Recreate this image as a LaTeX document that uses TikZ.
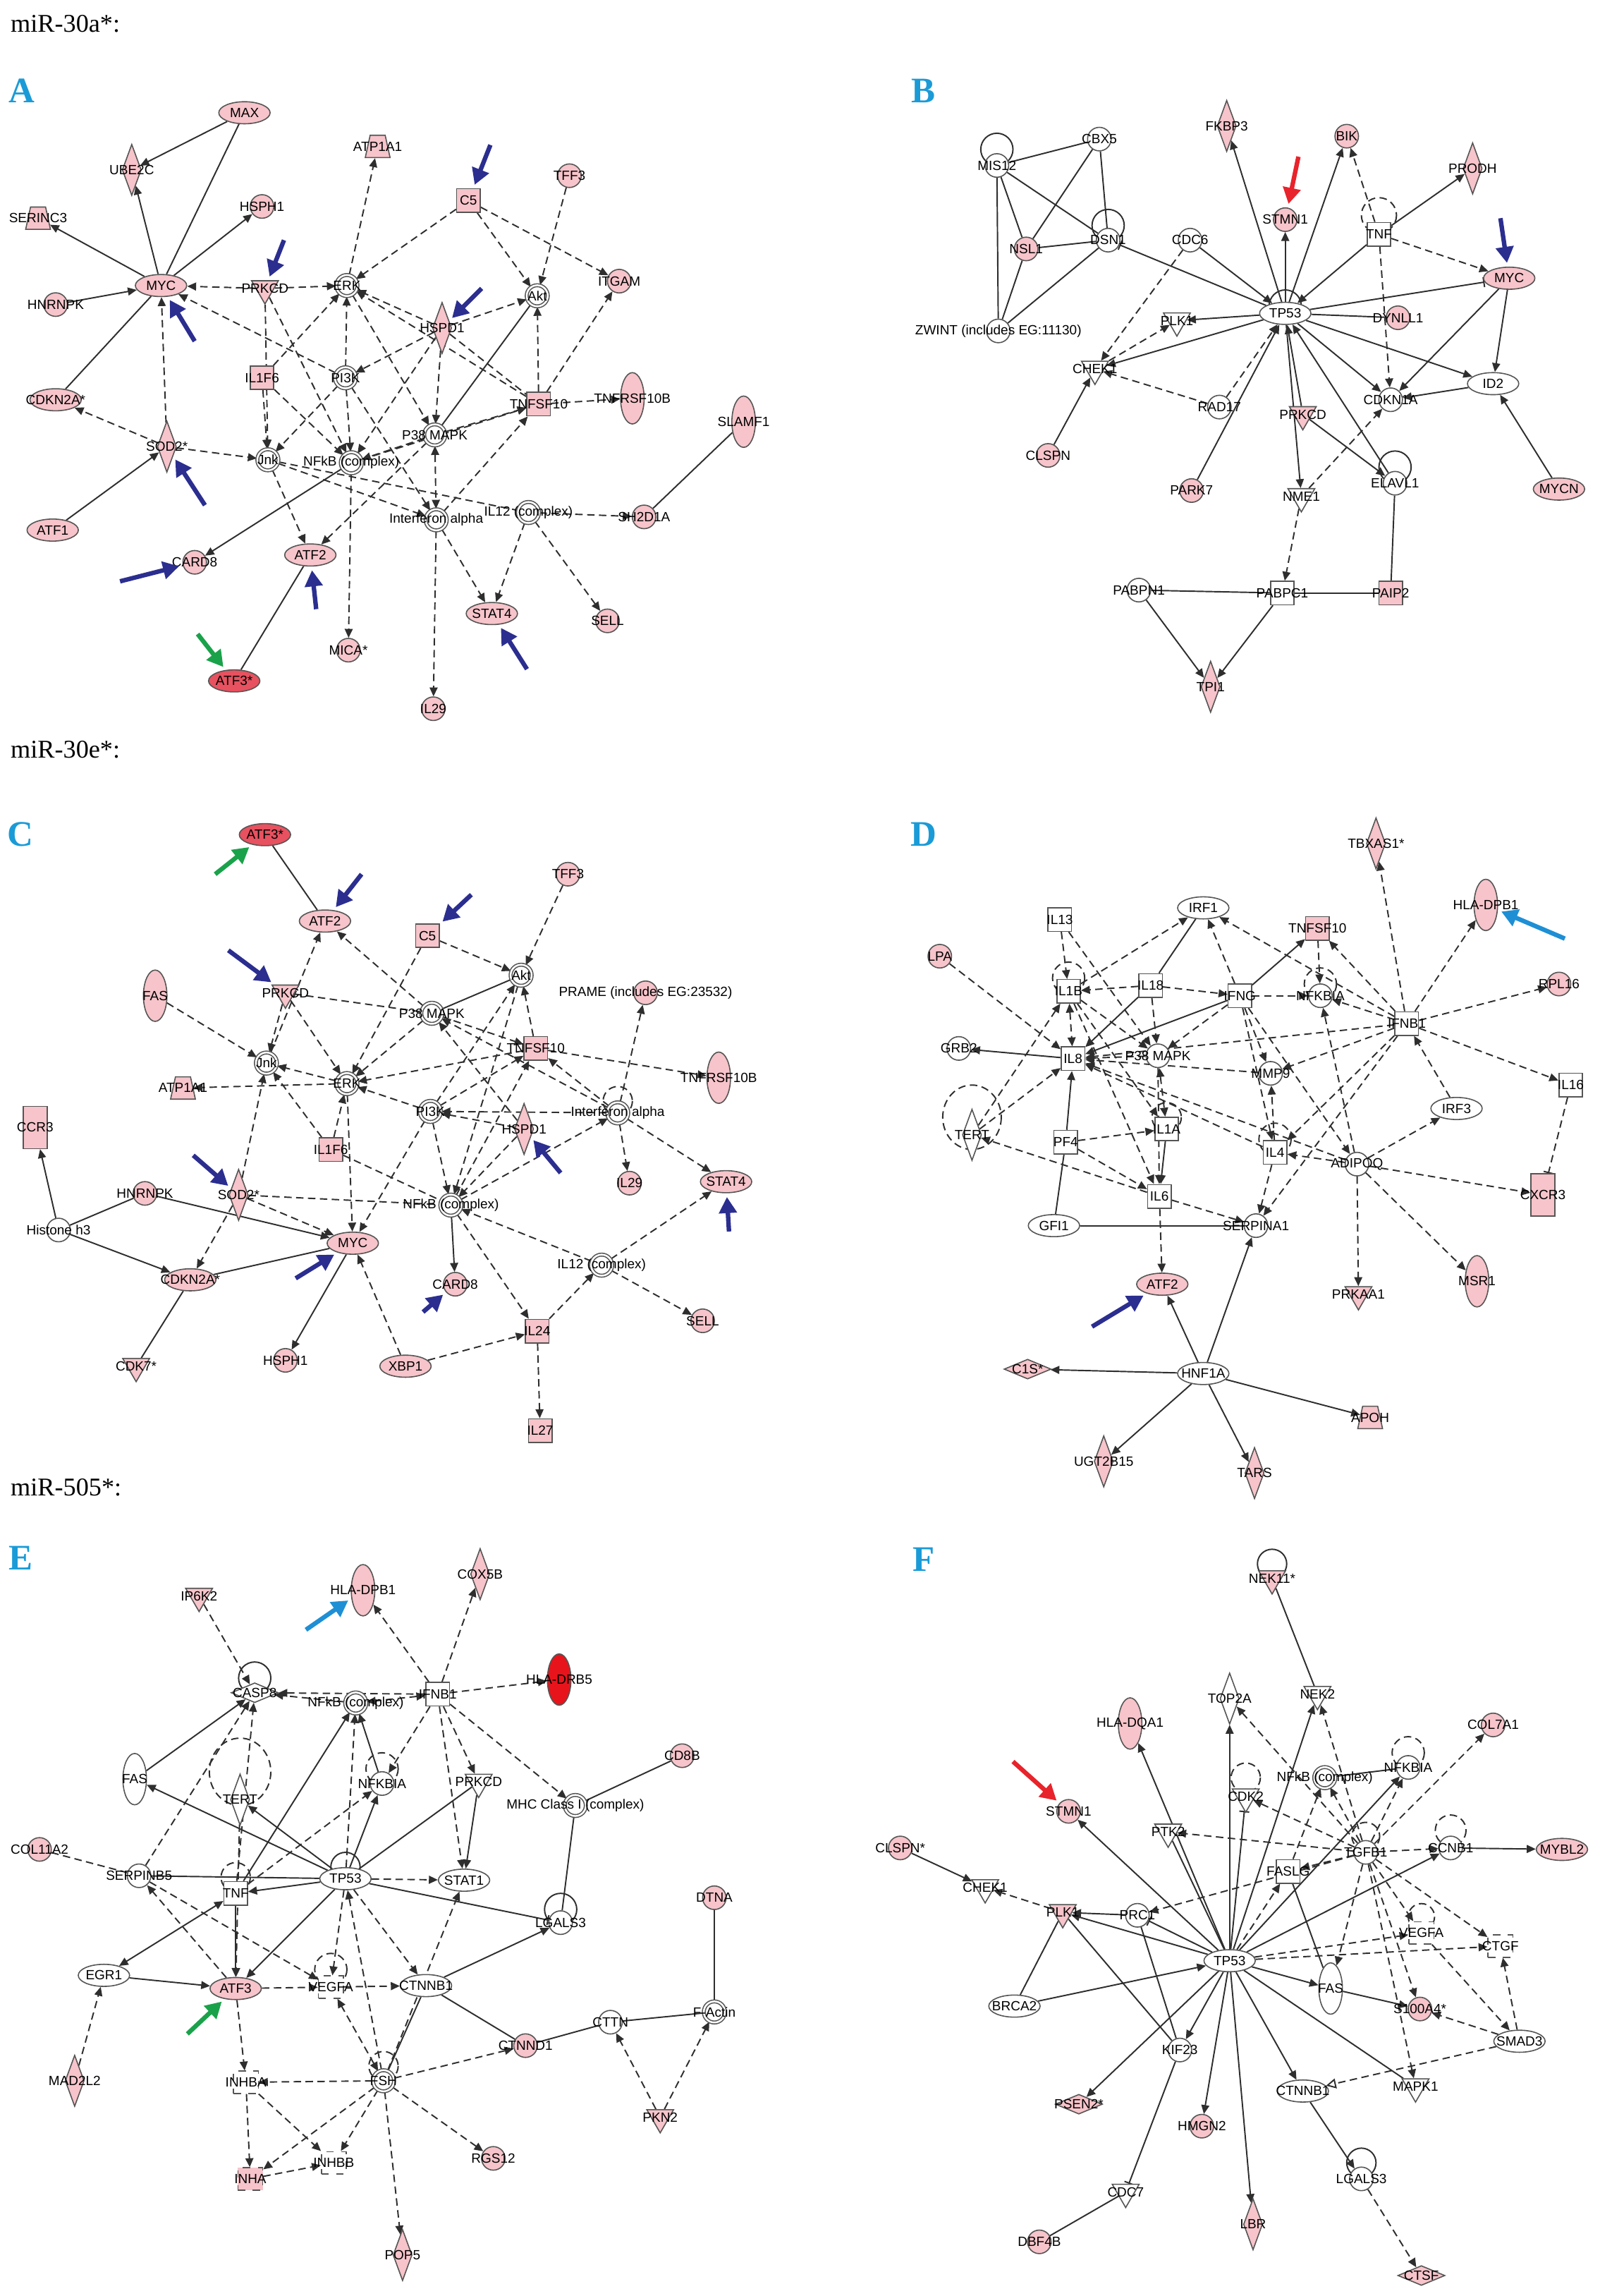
\documentclass[tikz,border=0pt]{standalone}
\usepackage{fontspec}
\setmainfont{Liberation Serif}
\newfontfamily\genefont{Liberation Sans}
\usetikzlibrary{arrows.meta,shapes.geometric}
\definecolor{GenePink}{HTML}{F6C4CA}
\definecolor{GeneRed}{HTML}{E8515F}
\definecolor{HotRed}{HTML}{E8141C}
\definecolor{EdgeGray}{HTML}{2E2E2E}
\definecolor{NodeLine}{HTML}{555555}
\definecolor{CallBlue}{HTML}{2B2E8F}
\definecolor{CallCyan}{HTML}{1E8FD5}
\definecolor{CallGreen}{HTML}{1AA24A}
\definecolor{CallRed}{HTML}{E8232B}
\definecolor{LetBlue}{HTML}{1A9BD7}
\pgfdeclarelayer{bg}
\pgfsetlayers{bg,main}
\tikzset{
  lbl/.style={font=\genefont\fontsize{5.4}{6}\selectfont,inner sep=0pt,text=black},
  txt/.style={label={[lbl]center:{#1}}},
  gene/.style={draw=NodeLine,line width=0.45pt,inner sep=0pt,fill=white},
  pk/.style={fill=GenePink},
  rd/.style={fill=GeneRed},
  oval/.style={gene,ellipse,minimum width=20.7pt,minimum height=8.9pt},
  tall/.style={gene,ellipse,minimum width=9.5pt,minimum height=20.7pt},
  gcir/.style={gene,circle,minimum size=9.5pt},
  cplx/.style={gene,circle,double,double distance=0.7pt,minimum size=8.5pt},
  sq/.style={gene,rectangle,minimum size=9.5pt},
  tallsq/.style={gene,rectangle,minimum width=9.7pt,minimum height=17pt},
  dsq/.style={gene,rectangle,dashed,minimum width=10pt,minimum height=9pt},
  dia/.style={gene,diamond,minimum width=7.7pt,minimum height=20.7pt},
  hdia/.style={gene,diamond,minimum width=19pt,minimum height=8pt},
  tri/.style={gene,regular polygon,regular polygon sides=3,shape border rotate=180,minimum size=12.5pt},
  trap/.style={gene,trapezium,trapezium angle=72,trapezium stretches=true,inner sep=1pt,minimum width=10pt,minimum height=9pt},
  ln/.style={draw=EdgeGray,line width=0.55pt},
  dl/.style={ln,dash pattern=on 3pt off 1.8pt},
  sa/.style={ln,-{Triangle[length=3.6pt,width=3.2pt]}},
  da/.style={dl,-{Triangle[length=3.6pt,width=3.2pt]}},
  sba/.style={ln,{Triangle[length=3.6pt,width=3.2pt]}-{Triangle[length=3.6pt,width=3.2pt]}},
  dba/.style={dl,{Triangle[length=3.6pt,width=3.2pt]}-{Triangle[length=3.6pt,width=3.2pt]}},
  sb/.style={ln,-{Bar[width=4pt]}},
  db/.style={dl,-{Bar[width=4pt]}},
  ptr/.style={line width=1.8pt,draw=#1,-{Triangle[length=6.5pt,width=7pt]},shorten >=1.5pt},
  plet/.style={font=\bfseries\fontsize{14.5}{16}\selectfont,text=LetBlue},
  ptitle/.style={font=\fontsize{10.3}{12}\selectfont,anchor=west,inner sep=0pt}
}
\begin{document}
\begin{tikzpicture}[x=0.02075cm,y=-0.02075cm]
\useasboundingbox (0,0) rectangle (1093,1568);
\begin{pgfonlayer}{bg}
\fill[white] (0,0) rectangle (1093,1568);
\end{pgfonlayer}

% titles and panel letters
\node[ptitle] (tA) at (7,16) {miR-30a*:};
\node[ptitle] (tC) at (7,512) {miR-30e*:};
\node[ptitle] (tE) at (7,1016) {miR-505*:};
\node[plet] (lA) at (15,62) {A};
\node[plet] (lB) at (631,62) {B};
\node[plet] (lC) at (14,570) {C};
\node[plet] (lD) at (631,570) {D};
\node[plet] (lE) at (14,1064) {E};
\node[plet] (lF) at (631,1065) {F};

% ---- A ----
\node[oval,pk,txt=MAX] (aMAX) at (167,77) {};
\node[dia,pk,txt=UBE2C] (aUBE) at (90,116) {};
\node[trap,pk,txt=SERINC3] (aSER) at (26,149) {};
\node[gcir,pk,txt=HSPH1] (aHSP) at (179,141) {};
\node[oval,pk,txt=MYC] (aMYC) at (110,195) {};
\node[gcir,pk,txt=HNRNPK] (aHNR) at (38,208) {};
\node[tri,pk,txt=PRKCD] (aPRK) at (181,197) {};
\node[cplx,txt=ERK] (aERK) at (237,195) {};
\node[trap,pk,txt=ATP1A1] (aATP) at (258,100) {};
\node[sq,pk,txt=IL1F6] (aIL1F6) at (179,258) {};
\node[cplx,txt=PI3K] (aPI3K) at (236,258) {};
\node[oval,pk,txt=CDKN2A*] (aCDK) at (38,273) {};
\node[dia,pk,txt=SOD2*] (aSOD) at (114,305) {};
\node[cplx,txt=Jnk] (aJnk) at (183,314) {};
\node[cplx,txt=NFkB (complex)] (aNFkB) at (240,316) {};
\node[oval,pk,txt=ATF1] (aATF1) at (36,362) {};
\node[gcir,pk,txt=CARD8] (aCARD) at (133,384) {};
\node[oval,pk,txt=ATF2] (aATF2) at (212,379) {};
\node[gcir,pk,txt=MICA*] (aMICA) at (238,444) {};
\node[oval,rd,txt=ATF3*] (aATF3) at (160,465) {};
\node[sq,pk,txt=C5] (aC5) at (320,137) {};
\node[gcir,pk,txt=TFF3] (aTFF) at (389,120) {};
\node[cplx,txt=Akt] (aAkt) at (367,202) {};
\node[gcir,pk,txt=ITGAM] (aITG) at (423,192) {};
\node[dia,pk,txt=HSPD1] (aHSPD) at (302,224) {};
\node[sq,pk,txt=TNFSF10] (aTNFSF) at (368,276) {};
\node[tall,pk,txt=TNFRSF10B] (aTNFR) at (432,272) {};
\node[tall,pk,txt=SLAMF1] (aSLAM) at (508,288) {};
\node[cplx,txt=P38 MAPK] (aP38) at (297,297) {};
\node[cplx,txt=Interferon alpha] (aIFNa) at (298,355) {};
\node[cplx,txt=IL12 (complex)] (aIL12) at (361,350) {};
\node[gcir,pk,txt=SH2D1A] (aSH2) at (440,353) {};
\node[oval,pk,txt=STAT4] (aSTAT4) at (336,419) {};
\node[gcir,pk,txt=SELL] (aSELL) at (415,424) {};
\node[gcir,pk,txt=IL29] (aIL29) at (296,484) {};

\begin{pgfonlayer}{bg}
\draw[sa] (aMAX) -- (aUBE);
\draw[ln] (aMAX) -- (aMYC);
\draw[sa] (aMYC) -- (aUBE);
\draw[sa] (aMYC) -- (aSER);
\draw[sa] (aMYC) -- (aHSP);
\draw[sa] (aHNR) -- (aMYC);
\draw[ln] (aCDK) -- (aMYC);
\draw[sa] (aATF1) -- (aSOD);
\draw[da] (aSOD) -- (aMYC);
\draw[da] (aSOD) -- (aCDK);
\draw[da] (aSOD) -- (aJnk);
\draw[da] (aPRK) -- (aMYC);
\draw[da] (aPRK) -- (aERK);
\draw[da] (aPI3K) -- (aMYC);
\draw[da] (aPRK) -- (aJnk);
\draw[da] (aPRK) -- (aNFkB);
\draw[da] (aIL1F6) -- (aJnk);
\draw[da] (aIL1F6) -- (aERK);
\draw[da] (aIL1F6) -- (aNFkB);
\draw[da] (aERK) -- (aATP);
\draw[da] (aPI3K) -- (aERK);
\draw[da] (aPI3K) -- (aJnk);
\draw[da] (aPI3K) -- (aNFkB);
\draw[da] (aJnk) -- (aATF2);
\draw[da] (aP38) -- (aATF2);
\draw[sa] (aNFkB) -- (aCARD);
\draw[ln] (aATF2) -- (aATF3);
\draw[da] (aNFkB) -- (aMICA);
\draw[da] (aC5) -- (aERK);
\draw[da] (aC5) -- (aAkt);
\draw[da] (aC5) -- (aITG);
\draw[da] (aTFF) -- (aAkt);
\draw[da] (aHSPD) -- (aAkt);
\draw[da] (aHSPD) -- (aP38);
\draw[da] (aHSPD) -- (aERK);
\draw[dl] (aHSPD) -- (aTNFSF);
\draw[da] (aHSPD) -- (aPI3K);
\draw[da] (aHSPD) -- (aNFkB);
\draw[da] (aTNFSF) -- (aAkt);
\draw[da] (aTNFSF) -- (aITG);
\draw[da] (aTNFSF) -- (aTNFR);
\draw[da] (aTNFSF) -- (aERK);
\draw[da] (aP38) -- (aTNFSF);
\draw[ln] (aP38) -- (aAkt);
\draw[da] (aIFNa) -- (aTNFSF);
\draw[dba] (aP38) -- (aIFNa);
\draw[da] (aIFNa) -- (aSTAT4);
\draw[da] (aIFNa) -- (aIL29);
\draw[da] (aIL12) -- (aSTAT4);
\draw[da] (aIL12) -- (aSELL);
\draw[da] (aIL12) -- (aSH2);
\draw[dl] (aJnk) -- (aIL12);
\draw[da] (aJnk) -- (aIFNa);
\draw[da] (aERK) -- (aP38);
\draw[da] (aPI3K) -- (aIFNa);
\draw[da] (aP38) -- (aNFkB);
\draw[da] (aNFkB) -- (aTNFSF);
\draw[ln] (aSLAM) -- (aSH2);
\end{pgfonlayer}

\coordinate (qA1) at (194,164);
\coordinate (qA2) at (133,233);
\coordinate (qA3) at (140,345);
\coordinate (qA4) at (82,397);
\coordinate (qA5) at (216,416);
\coordinate (qA6) at (135,433);
\coordinate (qA7) at (335,99);
\coordinate (qA8) at (329,197);
\coordinate (qA9) at (360,457);
\draw[ptr=CallBlue] (qA1) -- (aPRK);
\draw[ptr=CallBlue] (qA2) -- (aMYC);
\draw[ptr=CallBlue] (qA3) -- (aSOD);
\draw[ptr=CallBlue] (qA4) -- (aCARD);
\draw[ptr=CallBlue] (qA5) -- (aATF2);
\draw[ptr=CallGreen] (qA6) -- (aATF3);
\draw[ptr=CallBlue] (qA7) -- (aC5);
\draw[ptr=CallBlue] (qA8) -- (aHSPD);
\draw[ptr=CallBlue] (qA9) -- (aSTAT4);

% ---- B ----
\node[gcir,txt=MIS12] (bMIS) at (681,113) {};
\node[gcir,txt=CBX5] (bCBX) at (751,95) {};
\node[gcir,txt=DSN1] (bDSN) at (757,164) {};
\node[gcir,pk,txt=NSL1] (bNSL) at (701,170) {};
\node[gcir,txt={ZWINT (includes EG:11130)}] (bZW) at (682,226) {};
\node[gcir,txt=CDC6] (bCDC6) at (813,164) {};
\node[dia,pk,txt=FKBP3] (bFKB) at (838,86) {};
\node[gcir,pk,txt=BIK] (bBIK) at (920,93) {};
\node[gcir,pk,txt=STMN1] (bSTM) at (878,150) {};
\node[dia,pk,txt=PRODH] (bPRO) at (1006,115) {};
\node[sq,txt=TNF] (bTNF) at (942,160) {};
\node[oval,pk,txt=MYC] (bMYC) at (1031,190) {};
\node[oval,txt=TP53] (bTP53) at (878,214) {};
\node[gcir,pk,txt=DYNLL1] (bDYN) at (955,217) {};
\node[tri,txt=PLK1] (bPLK) at (804,219) {};
\node[tri,txt=CHEK1] (bCHK) at (748,252) {};
\node[gcir,txt=RAD17] (bRAD) at (833,278) {};
\node[gcir,txt=CDKN1A] (bCDKN) at (950,273) {};
\node[oval,txt=ID2] (bID2) at (1020,262) {};
\node[tri,pk,txt=PRKCD] (bPRK) at (890,283) {};
\node[gcir,pk,txt=CLSPN] (bCLS) at (716,311) {};
\node[gcir,pk,txt=PARK7] (bPARK) at (814,335) {};
\node[gcir,txt=ELAVL1] (bELA) at (953,330) {};
\node[tri,txt=NME1] (bNME) at (889,339) {};
\node[oval,pk,txt=MYCN] (bMYCN) at (1065,334) {};
\node[gcir,txt=PABPN1] (bPABN) at (778,403) {};
\node[sq,txt=PABPC1] (bPABC) at (876,405) {};
\node[sq,pk,txt=PAIP2] (bPAIP) at (950,405) {};
\node[dia,pk,txt=TPI1] (bTPI) at (827,469) {};

\begin{pgfonlayer}{bg}
\draw[ln] (bMIS) ++(0,-11) circle[radius=11];
\draw[ln] (bDSN) ++(0,-10) circle[radius=11];
\draw[dl] (bTNF) ++(0,-13) circle[radius=12];
\draw[ln] (bTP53) ++(0,-5) circle[radius=11];
\draw[ln] (bELA) ++(0,-11) circle[radius=11];
\draw[ln] (bMIS) -- (bCBX);
\draw[ln] (bMIS) -- (bNSL);
\draw[ln] (bMIS) -- (bDSN);
\draw[ln] (bMIS) -- (bZW);
\draw[ln] (bCBX) -- (bNSL);
\draw[ln] (bCBX) -- (bDSN);
\draw[ln] (bNSL) -- (bDSN);
\draw[ln] (bNSL) -- (bZW);
\draw[ln] (bDSN) -- (bZW);
\draw[sb] (bTP53) -- (bDSN);
\draw[sa] (bCDC6) -- (bTP53);
\draw[da] (bCDC6) -- (bCHK);
\draw[sa] (bTP53) -- (bPLK);
\draw[da] (bCHK) -- (bPLK);
\draw[sa] (bTP53) -- (bCHK);
\draw[da] (bRAD) -- (bCHK);
\draw[sa] (bCLS) -- (bCHK);
\draw[sa] (bTP53) -- (bFKB);
\draw[sa] (bTP53) -- (bSTM);
\draw[sa] (bTP53) -- (bBIK);
\draw[da] (bTNF) -- (bBIK);
\draw[sa] (bTNF) -- (bPRO);
\draw[sa] (bTNF) -- (bTP53);
\draw[da] (bTNF) -- (bMYC);
\draw[da] (bTNF) -- (bCDKN);
\draw[sb] (bTP53) -- (bMYC);
\draw[ln] (bTP53) -- (bDYN);
\draw[sa] (bTP53) -- (bCDKN);
\draw[sa] (bTP53) -- (bID2);
\draw[sa] (bMYC) -- (bCDKN);
\draw[sa] (bMYC) -- (bID2);
\draw[sa] (bID2) -- (bCDKN);
\draw[sa] (bMYCN) -- (bID2);
\draw[da] (bRAD) -- (bTP53);
\draw[sa] (bPARK) -- (bTP53);
\draw[sa] (bPRK) -- (bTP53);
\draw[sa] (bTP53) -- (bNME);
\draw[sa] (bPRK) -- (bELA);
\draw[sa] (bELA) -- (bTP53);
\draw[da] (bNME) -- (bCDKN);
\draw[da] (bNME) -- (bPABC);
\draw[ln] (bELA) -- (bPAIP);
\draw[ln] (bPABN) -- (bPABC);
\draw[ln] (bPABC) -- (bPAIP);
\draw[sa] (bPABN) -- (bTPI);
\draw[sa] (bPABC) -- (bTPI);
\end{pgfonlayer}

\coordinate (qB1) at (887,107);
\coordinate (qB2) at (1025,149);
\draw[ptr=CallRed] (qB1) -- (bSTM);
\draw[ptr=CallBlue] (qB2) -- (bMYC);

% ---- C ----
\node[oval,rd,txt=ATF3*] (cATF3) at (181,570) {};
\node[oval,pk,txt=ATF2] (cATF2) at (222,629) {};
\node[tall,pk,txt=FAS] (cFAS) at (106,680) {};
\node[tri,pk,txt=PRKCD] (cPRK) at (195,678) {};
\node[cplx,txt=Jnk] (cJnk) at (182,726) {};
\node[trap,pk,txt=ATP1A1] (cATP) at (125,743) {};
\node[cplx,txt=ERK] (cERK) at (237,740) {};
\node[tallsq,pk,txt=CCR3] (cCCR) at (24,770) {};
\node[sq,pk,txt=IL1F6] (cIL1F6) at (226,785) {};
\node[dia,pk,txt=SOD2*] (cSOD) at (163,816) {};
\node[gcir,pk,txt=HNRNPK] (cHNR) at (99,815) {};
\node[gcir,txt=Histone h3] (cHis) at (40,840) {};
\node[oval,pk,txt=MYC] (cMYC) at (241,849) {};
\node[oval,pk,txt=CDKN2A*] (cCDK) at (130,874) {};
\node[tri,pk,txt=CDK7*] (cCDK7) at (93,933) {};
\node[gcir,pk,txt=HSPH1] (cHSP) at (195,929) {};
\node[oval,pk,txt=XBP1] (cXBP) at (277,933) {};
\node[gcir,pk,txt=TFF3] (cTFF) at (388,597) {};
\node[sq,pk,txt=C5] (cC5) at (292,639) {};
\node[cplx,txt=Akt] (cAkt) at (356,666) {};
\node[gcir,pk,txt={PRAME (includes EG:23532)}] (cPRA) at (441,678) {};
\node[cplx,txt=P38 MAPK] (cP38) at (295,692) {};
\node[sq,pk,txt=TNFSF10] (cTNFSF) at (366,716) {};
\node[tall,pk,txt=TNFRSF10B] (cTNFR) at (491,736) {};
\node[cplx,txt=PI3K] (cPI3K) at (294,759) {};
\node[cplx,txt=Interferon alpha] (cIFNa) at (422,760) {};
\node[dia,pk,txt=HSPD1] (cHSPD) at (358,771) {};
\node[gcir,pk,txt=IL29] (cIL29) at (430,808) {};
\node[oval,pk,txt=STAT4] (cSTAT4) at (496,807) {};
\node[cplx,txt=NFkB (complex)] (cNFkB) at (308,823) {};
\node[cplx,txt=IL12 (complex)] (cIL12) at (411,864) {};
\node[gcir,pk,txt=CARD8] (cCARD) at (311,877) {};
\node[gcir,pk,txt=SELL] (cSELL) at (480,902) {};
\node[sq,pk,txt=IL24] (cIL24) at (367,909) {};
\node[sq,pk,txt=IL27] (cIL27) at (369,977) {};

\begin{pgfonlayer}{bg}
\draw[dl] (cIFNa) ++(0,-8) circle[radius=10];
\draw[ln] (cATF3) -- (cATF2);
\draw[da] (cJnk) -- (cATF2);
\draw[da] (cP38) -- (cATF2);
\draw[da] (cPRK) -- (cJnk);
\draw[da] (cPRK) -- (cERK);
\draw[dl] (cPRK) -- (cP38);
\draw[da] (cFAS) -- (cJnk);
\draw[da] (cERK) -- (cATP);
\draw[da] (cERK) -- (cJnk);
\draw[da] (cIL1F6) -- (cJnk);
\draw[da] (cIL1F6) -- (cERK);
\draw[dl] (cIL1F6) -- (cNFkB);
\draw[da] (cSOD) -- (cJnk);
\draw[da] (cSOD) -- (cCDK);
\draw[da] (cSOD) -- (cMYC);
\draw[dl] (cSOD) -- (cNFkB);
\draw[sa] (cHis) -- (cCCR);
\draw[ln] (cHis) -- (cHNR);
\draw[sa] (cHis) -- (cCDK);
\draw[sa] (cHNR) -- (cMYC);
\draw[ln] (cCDK) -- (cMYC);
\draw[ln] (cCDK) -- (cCDK7);
\draw[sa] (cMYC) -- (cHSP);
\draw[da] (cXBP) -- (cMYC);
\draw[da] (cERK) -- (cMYC);
\draw[da] (cPI3K) -- (cMYC);
\draw[da] (cXBP) -- (cIL24);
\draw[da] (cC5) -- (cAkt);
\draw[da] (cC5) -- (cERK);
\draw[da] (cTFF) -- (cAkt);
\draw[ln] (cP38) -- (cAkt);
\draw[da] (cTNFSF) -- (cAkt);
\draw[da] (cP38) -- (cTNFSF);
\draw[da] (cTNFSF) -- (cTNFR);
\draw[da] (cIFNa) -- (cTNFSF);
\draw[da] (cIFNa) -- (cPRA);
\draw[da] (cIFNa) -- (cIL29);
\draw[da] (cIFNa) -- (cSTAT4);
\draw[da] (cIFNa) -- (cP38);
\draw[da] (cIFNa) -- (cPI3K);
\draw[da] (cHSPD) -- (cP38);
\draw[da] (cHSPD) -- (cPI3K);
\draw[da] (cHSPD) -- (cNFkB);
\draw[da] (cPI3K) -- (cERK);
\draw[da] (cPI3K) -- (cNFkB);
\draw[da] (cPI3K) -- (cTNFSF);
\draw[da] (cPI3K) -- (cAkt);
\draw[da] (cP38) -- (cERK);
\draw[da] (cTNFSF) -- (cERK);
\draw[da] (cAkt) -- (cNFkB);
\draw[sa] (cNFkB) -- (cCARD);
\draw[da] (cNFkB) -- (cIL24);
\draw[da] (cNFkB) -- (cIFNa);
\draw[da] (cNFkB) -- (cTNFSF);
\draw[da] (cIL12) -- (cNFkB);
\draw[da] (cIL12) -- (cSTAT4);
\draw[da] (cIL12) -- (cSELL);
\draw[da] (cIL24) -- (cIL12);
\draw[da] (cIL24) -- (cIL27);
\end{pgfonlayer}

\coordinate (qC1) at (147,597);
\coordinate (qC2) at (247,597);
\coordinate (qC3) at (156,649);
\coordinate (qC4) at (132,789);
\coordinate (qC5) at (202,873);
\coordinate (qC6) at (322,611);
\coordinate (qC7) at (383,801);
\coordinate (qC8) at (498,841);
\coordinate (qC9) at (289,896);
\draw[ptr=CallGreen] (qC1) -- (cATF3);
\draw[ptr=CallBlue] (qC2) -- (cATF2);
\draw[ptr=CallBlue] (qC3) -- (cPRK);
\draw[ptr=CallBlue] (qC4) -- (cSOD);
\draw[ptr=CallBlue] (qC5) -- (cMYC);
\draw[ptr=CallBlue] (qC6) -- (cC5);
\draw[ptr=CallBlue] (qC7) -- (cHSPD);
\draw[ptr=CallBlue] (qC8) -- (cSTAT4);
\draw[ptr=CallBlue] (qC9) -- (cCARD);

% ---- D ----
\node[sq,txt=IL13] (dIL13) at (724,628) {};
\node[gcir,pk,txt=LPA] (dLPA) at (642,653) {};
\node[sq,txt=IL1B] (dIL1B) at (730,677) {};
\node[sq,txt=IL18] (dIL18) at (786,673) {};
\node[gcir,txt=GRB2] (dGRB) at (655,716) {};
\node[sq,txt=IL8] (dIL8) at (733,723) {};
\node[gcir,txt=P38 MAPK] (dP38) at (791,721) {};
\node[dia,txt=TERT] (dTERT) at (664,775) {};
\node[sq,txt=PF4] (dPF4) at (728,780) {};
\node[sq,txt=IL1A] (dIL1A) at (797,771) {};
\node[sq,txt=IL6] (dIL6) at (792,817) {};
\node[oval,txt=GFI1] (dGFI) at (720,837) {};
\node[oval,pk,txt=ATF2] (dATF2) at (794,877) {};
\node[hdia,pk,txt=C1S*] (dC1S) at (702,935) {};
\node[oval,txt=HNF1A] (dHNF) at (822,938) {};
\node[dia,pk,txt=UGT2B15] (dUGT) at (754,998) {};
\node[oval,txt=IRF1] (dIRF1) at (822,620) {};
\node[dia,pk,txt=TBXAS1*] (dTBX) at (940,576) {};
\node[tall,pk,txt=HLA-DPB1] (dHLA) at (1015,618) {};
\node[sq,pk,txt=TNFSF10] (dTNFSF) at (900,634) {};
\node[sq,txt=IFNG] (dIFNG) at (847,680) {};
\node[gcir,txt=NFKBIA] (dNFKB) at (902,680) {};
\node[gcir,pk,txt=RPL16] (dRPL) at (1065,672) {};
\node[sq,txt=IFNB1] (dIFNB) at (961,699) {};
\node[gcir,txt=MMP9] (dMMP) at (868,733) {};
\node[sq,txt=IL16] (dIL16) at (1073,741) {};
\node[oval,txt=IRF3] (dIRF3) at (995,757) {};
\node[sq,txt=IL4] (dIL4) at (871,787) {};
\node[gcir,txt=ADIPOQ] (dADI) at (927,795) {};
\node[tallsq,pk,txt=CXCR3] (dCXC) at (1054,816) {};
\node[gcir,txt=SERPINA1] (dSERP) at (858,837) {};
\node[tri,pk,txt=PRKAA1] (dPRKA) at (928,884) {};
\node[tall,pk,txt=MSR1] (dMSR) at (1009,875) {};
\node[trap,pk,txt=APOH] (dAPOH) at (936,968) {};
\node[dia,pk,txt=TARS] (dTARS) at (857,1006) {};

\begin{pgfonlayer}{bg}
\draw[dl] (dIL1B) ++(0,-9) circle[radius=11];
\draw[dl] (dTERT) ++(0,-12) ellipse[x radius=20,y radius=22];
\draw[dl] (dNFKB) ++(0,-8) circle[radius=11];
\draw[dl] (dIL4) ++(0,-9) circle[radius=11];
\draw[dl] (dIL1A) ++(0,-8) circle[radius=10];
\draw[da] (dIL13) -- (dIL1B);
\draw[da] (dIL13) -- (dP38);
\draw[da] (dIL1B) -- (dIRF1);
\draw[dba] (dIL1B) -- (dIL8);
\draw[da] (dIL18) -- (dIL1B);
\draw[sa] (dIL18) -- (dIL8);
\draw[da] (dIL18) -- (dP38);
\draw[ln] (dIL18) -- (dIRF1);
\draw[da] (dIL18) -- (dIFNG);
\draw[da] (dLPA) -- (dIL8);
\draw[sa] (dIL8) -- (dGRB);
\draw[da] (dTERT) -- (dIL1B);
\draw[da] (dTERT) -- (dIL8);
\draw[da] (dIL6) -- (dTERT);
\draw[sa] (dPF4) -- (dIL8);
\draw[da] (dPF4) -- (dIL1A);
\draw[da] (dPF4) -- (dIL6);
\draw[ln] (dGFI) -- (dPF4);
\draw[ln] (dGFI) -- (dSERP);
\draw[da] (dIL1B) -- (dP38);
\draw[da] (dIL1B) -- (dIL1A);
\draw[da] (dIL1B) -- (dIL6);
\draw[da] (dP38) -- (dIL6);
\draw[dba] (dP38) -- (dIL1A);
\draw[da] (dP38) -- (dIL8);
\draw[sa] (dIL1A) -- (dIL6);
\draw[da] (dIL6) -- (dATF2);
\draw[da] (dIL6) -- (dSERP);
\draw[da] (dIFNG) -- (dIRF1);
\draw[sa] (dIFNG) -- (dTNFSF);
\draw[da] (dIFNG) -- (dMMP);
\draw[sa] (dIFNG) -- (dIL8);
\draw[da] (dIFNG) -- (dNFKB);
\draw[da] (dIFNG) -- (dADI);
\draw[da] (dIFNG) -- (dIL4);
\draw[da] (dIFNG) -- (dP38);
\draw[da] (dIL4) -- (dMMP);
\draw[da] (dIL4) -- (dSERP);
\draw[da] (dIL4) -- (dIL8);
\draw[da] (dMMP) -- (dIL8);
\draw[da] (dIFNB) -- (dIL4);
\draw[da] (dTNFSF) -- (dNFKB);
\draw[da] (dIFNB) -- (dTNFSF);
\draw[da] (dIFNB) -- (dIRF1);
\draw[da] (dIFNB) -- (dNFKB);
\draw[da] (dIFNB) -- (dTBX);
\draw[da] (dIFNB) -- (dHLA);
\draw[da] (dIFNB) -- (dRPL);
\draw[da] (dIFNB) -- (dIL16);
\draw[da] (dIRF3) -- (dIFNB);
\draw[da] (dIFNB) -- (dMMP);
\draw[da] (dIFNB) -- (dSERP);
\draw[da] (dIFNB) -- (dIL8);
\draw[da] (dADI) -- (dNFKB);
\draw[da] (dADI) -- (dIRF3);
\draw[da] (dADI) -- (dPRKA);
\draw[da] (dADI) -- (dMSR);
\draw[da] (dADI) -- (dCXC);
\draw[da] (dADI) -- (dIL4);
\draw[da] (dADI) -- (dIL8);
\draw[db] (dIL16) -- (dCXC);
\draw[sa] (dHNF) -- (dSERP);
\draw[sa] (dHNF) -- (dATF2);
\draw[sa] (dHNF) -- (dC1S);
\draw[sa] (dHNF) -- (dUGT);
\draw[sa] (dHNF) -- (dAPOH);
\draw[sa] (dHNF) -- (dTARS);
\end{pgfonlayer}

\coordinate (qD1) at (746,906);
\coordinate (qD2) at (1069,641);
\draw[ptr=CallBlue] (qD1) -- (dATF2);
\draw[ptr=CallCyan] (qD2) -- (dHLA);

% ---- E ----
\node[tri,pk,txt=IP6K2] (eIP6) at (136,1090) {};
\node[tall,pk,txt=HLA-DPB1] (eHLA) at (248,1086) {};
\node[hdia,txt=CASP8] (eCASP) at (174,1156) {};
\node[cplx,txt=NFkB (complex)] (eNFkB) at (243,1163) {};
\node[tall,txt=FAS] (eFAS) at (92,1215) {};
\node[dia,txt=TERT] (eTERT) at (164,1229) {};
\node[gcir,txt=NFKBIA] (eNFKB) at (261,1218) {};
\node[gcir,pk,txt=COL11A2] (eCOL) at (27,1263) {};
\node[gcir,txt=SERPINB5] (eSERP) at (95,1281) {};
\node[sq,txt=TNF] (eTNF) at (161,1293) {};
\node[oval,txt=TP53] (eTP53) at (236,1283) {};
\node[oval,txt=EGR1] (eEGR) at (71,1349) {};
\node[oval,pk,txt=ATF3] (eATF3) at (161,1358) {};
\node[dsq,txt=VEGFA] (eVEG) at (226,1357) {};
\node[dia,pk,txt=MAD2L2] (eMAD) at (51,1421) {};
\node[dsq,txt=INHBA] (eINHBA) at (168,1422) {};
\node[cplx,txt=FSH] (eFSH) at (262,1421) {};
\node[dsq,txt=INHBB] (eINHBB) at (228,1477) {};
\node[dsq,pk,txt=INHA] (eINHA) at (171,1488) {};
\node[dia,pk,txt=POP5] (ePOP) at (275,1540) {};
\node[dia,pk,txt=COX5B] (eCOX) at (328,1075) {};
\node[sq,txt=IFNB1] (eIFNB) at (299,1157) {};
\node[tall,fill=HotRed,txt=HLA-DRB5] (eDRB) at (382,1147) {};
\node[gcir,pk,txt=CD8B] (eCD8) at (466,1199) {};
\node[tri,txt=PRKCD] (ePRK) at (327,1217) {};
\node[cplx,txt=MHC Class I (complex)] (eMHC) at (393,1233) {};
\node[oval,txt=STAT1] (eSTAT1) at (317,1284) {};
\node[gcir,txt=LGALS3] (eLGAL) at (383,1313) {};
\node[gcir,pk,txt=DTNA] (eDTNA) at (488,1296) {};
\node[oval,txt=CTNNB1] (eCTNB) at (291,1356) {};
\node[cplx,txt=F-Actin] (eFACT) at (488,1374) {};
\node[gcir,txt=CTTN] (eCTTN) at (417,1381) {};
\node[gcir,pk,txt=CTNND1] (eCTND) at (359,1397) {};
\node[tri,pk,txt=PKN2] (ePKN) at (451,1446) {};
\node[gcir,pk,txt=RGS12] (eRGS) at (337,1474) {};

\begin{pgfonlayer}{bg}
\draw[ln] (eCASP) ++(0,-10) circle[radius=11];
\draw[dl] (eTERT) ++(0,-19) ellipse[x radius=21,y radius=23];
\draw[dl] (eNFKB) ++(0,-10) circle[radius=11];
\draw[dl] (eTNF) ++(0,-11) circle[radius=10];
\draw[ln] (eTP53) ++(0,-8) circle[radius=10];
\draw[dl] (eVEG) ++(0,-12) circle[radius=11];
\draw[dl] (eFSH) ++(0,-10) circle[radius=10];
\draw[ln] (eLGAL) ++(0,-9) circle[radius=11];
\draw[da] (eIP6) -- (eCASP);
\draw[da] (eNFkB) -- (eCASP);
\draw[da] (eIFNB) -- (eCASP);
\draw[dba] (eIFNB) -- (eNFkB);
\draw[sa] (eFAS) -- (eCASP);
\draw[da] (eSERP) -- (eCASP);
\draw[da] (eTNF) -- (eCASP);
\draw[sa] (eTP53) -- (eFAS);
\draw[sa] (eTP53) -- (eTERT);
\draw[sa] (eTNF) -- (eNFkB);
\draw[da] (eTP53) -- (eNFkB);
\draw[sa] (eNFKB) -- (eNFkB);
\draw[sa] (eTP53) -- (eNFKB);
\draw[da] (eTNF) -- (eNFKB);
\draw[da] (eIFNB) -- (eNFKB);
\draw[dl] (eCOL) -- (eSERP);
\draw[ln] (eSERP) -- (eTP53);
\draw[sa] (eTP53) -- (eTNF);
\draw[da] (eATF3) -- (eSERP);
\draw[da] (eSERP) -- (eVEG);
\draw[sba] (eTNF) -- (eEGR);
\draw[sa] (eEGR) -- (eATF3);
\draw[da] (eMAD) -- (eEGR);
\draw[sa] (eTNF) -- (eATF3);
\draw[da] (eTERT) -- (eATF3);
\draw[sa] (eTP53) -- (eATF3);
\draw[da] (eATF3) -- (eVEG);
\draw[da] (eVEG) -- (eCTNB);
\draw[da] (eATF3) -- (eINHBA);
\draw[da] (eINHBA) -- (eINHA);
\draw[da] (eINHBA) -- (eINHBB);
\draw[da] (eINHA) -- (eINHBB);
\draw[da] (eFSH) -- (eINHBA);
\draw[da] (eFSH) -- (eINHA);
\draw[da] (eFSH) -- (eINHBB);
\draw[dba] (eFSH) -- (eVEG);
\draw[da] (eFSH) -- (ePOP);
\draw[da] (eFSH) -- (eRGS);
\draw[da] (eFSH) -- (eCTND);
\draw[da] (eFSH) -- (eTP53);
\draw[da] (eFSH) -- (eSTAT1);
\draw[ln] (eCTNB) -- (eFSH);
\draw[da] (eTP53) -- (eVEG);
\draw[da] (eTP53) -- (eCTNB);
\draw[da] (eTP53) -- (eSTAT1);
\draw[sb] (eTP53) -- (eLGAL);
\draw[da] (eIFNB) -- (eCOX);
\draw[da] (eIFNB) -- (eDRB);
\draw[da] (eIFNB) -- (eHLA);
\draw[da] (eIFNB) -- (ePRK);
\draw[da] (eIFNB) -- (eSTAT1);
\draw[da] (eIFNB) -- (eMHC);
\draw[sa] (ePRK) -- (eSTAT1);
\draw[ln] (ePRK) -- (eTP53);
\draw[ln] (eMHC) -- (eCD8);
\draw[ln] (eMHC) -- (eLGAL);
\draw[sa] (eCTNB) -- (eLGAL);
\draw[ln] (eCTNB) -- (eCTND);
\draw[ln] (eCTND) -- (eCTTN);
\draw[ln] (eCTTN) -- (eFACT);
\draw[ln] (eDTNA) -- (eFACT);
\draw[da] (ePKN) -- (eCTTN);
\draw[da] (ePKN) -- (eFACT);
\end{pgfonlayer}

\coordinate (qE1) at (209,1113);
\coordinate (qE2) at (128,1389);
\draw[ptr=CallCyan] (qE1) -- (eHLA);
\draw[ptr=CallGreen] (qE2) -- (eATF3);

% ---- F ----
\node[tri,pk,txt=NEK11*] (fNEK11) at (869,1078) {};
\node[dia,txt=TOP2A] (fTOP) at (840,1160) {};
\node[tri,txt=NEK2] (fNEK2) at (900,1157) {};
\node[gcir,pk,txt=COL7A1] (fCOL) at (1020,1178) {};
\node[tall,pk,txt=HLA-DQA1] (fHLA) at (772,1177) {};
\node[cplx,txt=NFkB (complex)] (fNFkB) at (905,1214) {};
\node[gcir,txt=NFKBIA] (fNFKB) at (962,1207) {};
\node[tri,txt=CDK2] (fCDK2) at (851,1227) {};
\node[gcir,txt=TGFB1] (fTGF) at (933,1265) {};
\node[gcir,txt=CCNB1] (fCCN) at (991,1262) {};
\node[oval,pk,txt=MYBL2] (fMYB) at (1067,1263) {};
\node[sq,txt=FASLG] (fFASLG) at (880,1278) {};
\node[dsq,txt=VEGFA] (fVEG) at (971,1320) {};
\node[dsq,txt=CTGF] (fCTGF) at (1025,1329) {};
\node[oval,txt=TP53] (fTP53) at (840,1339) {};
\node[tall,txt=FAS] (fFAS) at (909,1358) {};
\node[gcir,pk,txt=S100A4*] (fS100) at (970,1372) {};
\node[oval,txt=SMAD3] (fSMAD) at (1038,1394) {};
\node[oval,txt=CTNNB1] (fCTNB) at (890,1428) {};
\node[tri,txt=MAPK1] (fMAPK) at (967,1425) {};
\node[gcir,pk,txt=HMGN2] (fHMG) at (821,1452) {};
\node[gcir,txt=LGALS3] (fLGAL) at (930,1488) {};
\node[dia,pk,txt=LBR] (fLBR) at (856,1519) {};
\node[hdia,pk,txt=CTSF] (fCTSF) at (971,1554) {};
\node[gcir,pk,txt=STMN1] (fSTM) at (730,1237) {};
\node[gcir,pk,txt=CLSPN*] (fCLS) at (615,1262) {};
\node[tri,txt=PTK2] (fPTK) at (798,1251) {};
\node[tri,txt=CHEK1] (fCHK) at (673,1289) {};
\node[tri,pk,txt=PLK1] (fPLK) at (726,1306) {};
\node[gcir,txt=PRC1] (fPRC) at (777,1308) {};
\node[oval,txt=BRCA2] (fBRCA) at (693,1370) {};
\node[gcir,txt=KIF23] (fKIF) at (806,1400) {};
\node[hdia,pk,txt=PSEN2*] (fPSEN) at (737,1437) {};
\node[tri,txt=CDC7] (fCDC7) at (769,1497) {};
\node[gcir,pk,txt=DBF4B] (fDBF) at (710,1531) {};

\begin{pgfonlayer}{bg}
\draw[ln] (fNEK11) ++(0,-10) circle[radius=10];
\draw[dl] (fCDK2) ++(0,-13) circle[radius=10];
\draw[dl] (fNFKB) ++(0,-10) circle[radius=11];
\draw[dl] (fTGF) ++(0,-11) circle[radius=9.5];
\draw[dl] (fCCN) ++(0,-12) circle[radius=10.5];
\draw[dl] (fVEG) ++(0,-11) circle[radius=9];
\draw[ln] (fLGAL) ++(0,-11) circle[radius=10];
\draw[ln] (fNEK11) -- (fNEK2);
\draw[da] (fTGF) -- (fNEK2);
\draw[sa] (fTP53) -- (fTOP);
\draw[da] (fTGF) -- (fTOP);
\draw[sa] (fTP53) -- (fNEK2);
\draw[sb] (fTP53) -- (fCDK2);
\draw[da] (fTGF) -- (fCDK2);
\draw[da] (fTGF) -- (fNFkB);
\draw[da] (fTGF) -- (fNFKB);
\draw[ln] (fNFkB) -- (fNFKB);
\draw[sa] (fTP53) -- (fNFKB);
\draw[da] (fTGF) -- (fCOL);
\draw[da] (fTGF) -- (fCCN);
\draw[sa] (fCCN) -- (fMYB);
\draw[da] (fTGF) -- (fFASLG);
\draw[da] (fFASLG) -- (fNFkB);
\draw[da] (fTP53) -- (fFASLG);
\draw[ln] (fFASLG) -- (fFAS);
\draw[da] (fTGF) -- (fVEG);
\draw[da] (fTGF) -- (fCTGF);
\draw[da] (fTGF) -- (fFAS);
\draw[da] (fTGF) -- (fS100);
\draw[da] (fTGF) -- (fMAPK);
\draw[sa] (fTP53) -- (fFAS);
\draw[sa] (fFAS) -- (fS100);
\draw[da] (fTP53) -- (fCTGF);
\draw[da] (fTP53) -- (fVEG);
\draw[sa] (fTP53) -- (fCCN);
\draw[ln] (fTP53) -- (fMAPK);
\draw[da] (fSMAD) -- (fCTGF);
\draw[da] (fSMAD) -- (fS100);
\draw[da] (fVEG) -- (fSMAD);
\draw[dl,-{Triangle[open,length=4pt,width=4pt]}] (fSMAD) -- (fCTNB);
\draw[sa] (fTP53) -- (fCTNB);
\draw[sa] (fCTNB) -- (fLGAL);
\draw[da] (fLGAL) -- (fCTSF);
\draw[sa] (fTP53) -- (fLBR);
\draw[sa] (fTP53) -- (fHMG);
\draw[sa] (fTP53) -- (fPSEN);
\draw[sa] (fTP53) -- (fKIF);
\draw[sb] (fKIF) -- (fCDC7);
\draw[ln] (fCDC7) -- (fDBF);
\draw[sa] (fTP53) -- (fSTM);
\draw[sa] (fTP53) -- (fHLA);
\draw[ln] (fTP53) -- (fPTK);
\draw[da] (fTGF) -- (fPTK);
\draw[sa] (fTP53) -- (fPLK);
\draw[da] (fPLK) -- (fCHK);
\draw[sa] (fCLS) -- (fCHK);
\draw[ln] (fPLK) -- (fBRCA);
\draw[sa] (fBRCA) -- (fTP53);
\draw[ln] (fPLK) -- (fKIF);
\draw[sa] (fPRC) -- (fPLK);
\draw[ln] (fPRC) -- (fKIF);
\draw[sb] (fTP53) -- (fPRC);
\draw[da] (fTGF) -- (fPRC);
\end{pgfonlayer}

\coordinate (qF1) at (692,1203);
\draw[ptr=CallRed] (qF1) -- (fSTM);
\end{tikzpicture}
\end{document}
